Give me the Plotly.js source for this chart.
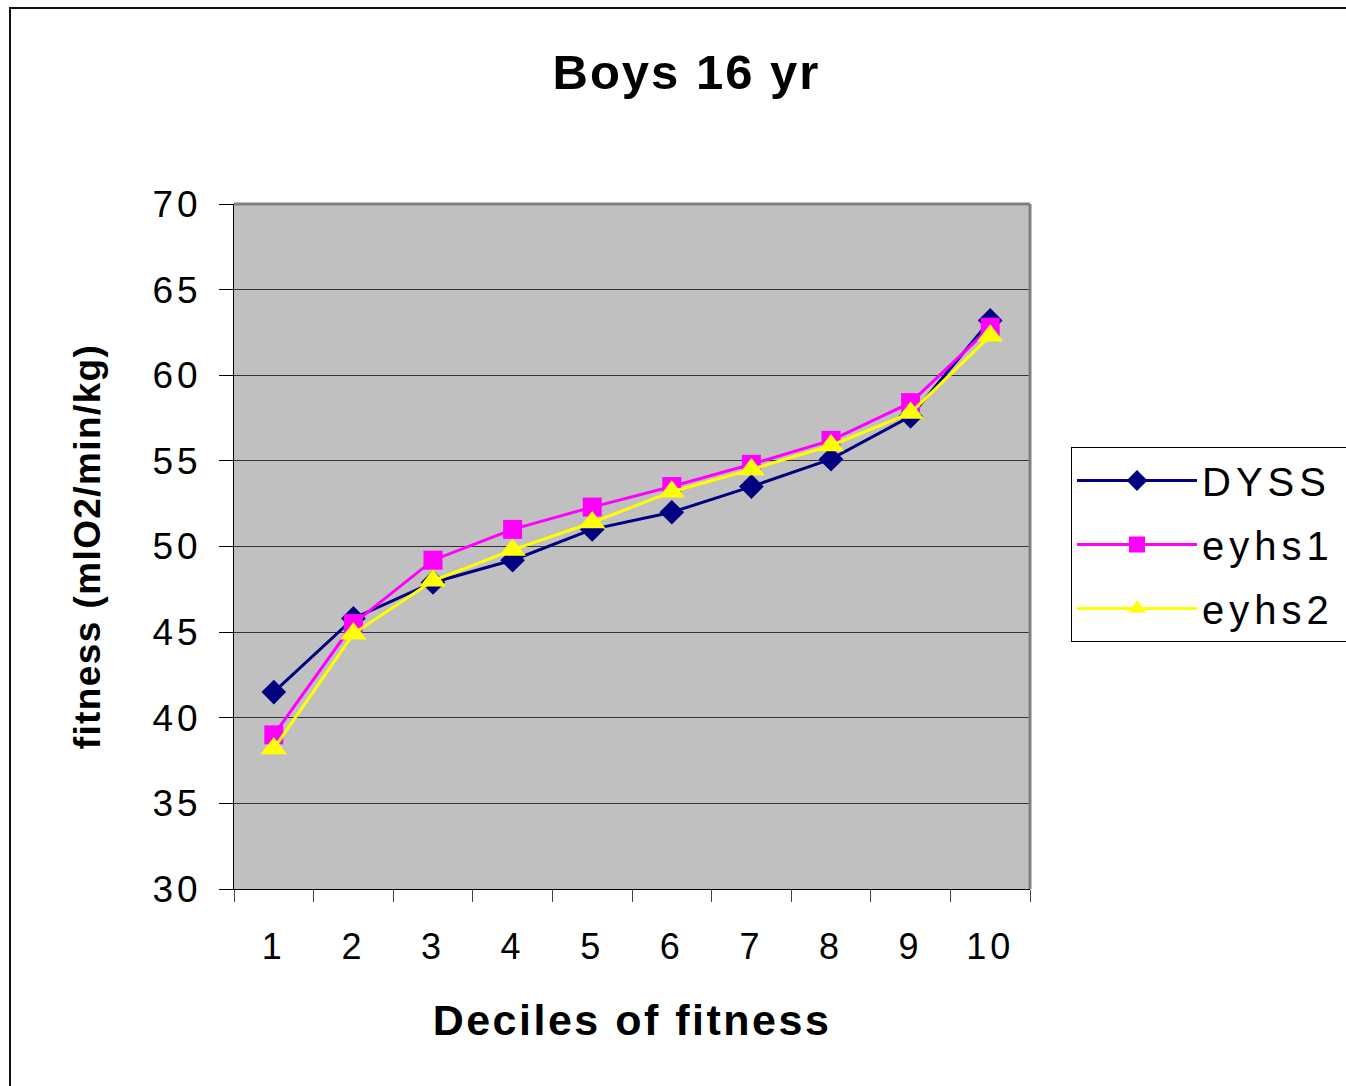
<!DOCTYPE html>
<html>
<head>
<meta charset="utf-8">
<script src="https://cdn.plot.ly/plotly-3.0.1.min.js"></script>
<style>
  html, body { margin: 0; padding: 0; background: #fff; }
  #wrap { position: relative; width: 1346px; height: 1086px; overflow: hidden; }
  #chart { width: 1346px; height: 1086px; }
  #frame { position: absolute; left: 9px; top: 7px; width: 1400px; height: 1200px;
           border-left: 2px solid #111; border-top: 2px solid #111; pointer-events: none; }
  #chart .gtitle { letter-spacing: 2px; }
  #chart .xtitle { letter-spacing: 2.5px; }
  #chart .ytitle { letter-spacing: 1.4px; }
  #chart .xtick text, #chart .ytick text { letter-spacing: 4px; }
  #chart .legendtext { letter-spacing: 5px; }
  /* let the legend box run off the right edge as in the reference, without clipping text */
  #chart .legend .scrollbox { clip-path: none !important; }
  #chart .legend rect.bg { width: 400px; }
</style>
</head>
<body>
<div id="wrap">
  <div id="chart"></div>
  <div id="frame"></div>
</div>
<script>
const deciles = ["1", "2", "3", "4", "5", "6", "7", "8", "9", "10"];
const dyss  = [41.5, 45.8, 47.9, 49.2, 51.0, 52.0, 53.5, 55.1, 57.6, 63.2];
const eyhs1 = [39.0, 45.5, 49.2, 51.0, 52.3, 53.5, 54.8, 56.2, 58.4, 62.8];
const eyhs2 = [38.2, 44.9, 48.0, 49.8, 51.4, 53.2, 54.5, 55.9, 57.8, 62.3];
const yTicks = [30, 35, 40, 45, 50, 55, 60, 65, 70];
const seriesNames = ["DYSS", "eyhs1", "eyhs2"];

const FONT = "Arial, 'Liberation Sans', sans-serif";

const traces = [
  { x: deciles, y: dyss, name: seriesNames[0], legendgroup: "g1", type: "scatter", mode: "lines+markers",
    line: { color: "#000080", width: 3 },
    marker: { symbol: "diamond", size: 19, color: "#000080" } },
  { x: deciles, y: eyhs1, name: seriesNames[1], legendgroup: "g2", type: "scatter", mode: "lines+markers",
    line: { color: "#FF00FF", width: 3 },
    marker: { symbol: "square", size: 19, color: "#FF00FF" } },
  { x: deciles, y: eyhs2, name: seriesNames[2], legendgroup: "g3", type: "scatter", mode: "lines+markers",
    line: { color: "#FFFF00", width: 3 },
    marker: { symbol: "triangle-up", size: 23, color: "#FFFF00" } }
];

const layout = {
  width: 1346, height: 1086,
  paper_bgcolor: "#ffffff",
  plot_bgcolor: "#c0c0c0",
  margin: { l: 234, r: 316, t: 204, b: 197, autoexpand: false },
  font: { family: FONT, color: "#000" },
  title: {
    text: "Boys 16 yr",
    font: { family: FONT, size: 49, weight: "bold", color: "#000" },
    xref: "container", x: 0.51, xanchor: "center",
    yref: "container", y: 1 - 72 / 1086, yanchor: "middle"
  },
  xaxis: {
    type: "category",
    range: [-0.5, 9.5],
    showgrid: false,
    zeroline: false,
    showline: true, linecolor: "#000", linewidth: 1,
    ticks: "outside", tickson: "boundaries", ticklen: 12, tickcolor: "#444", tickwidth: 1,
    ticklabelstandoff: 26,
    tickfont: { family: FONT, size: 36, color: "#000" },
    title: { text: "Deciles of fitness", standoff: 38,
             font: { family: FONT, size: 43, weight: "bold", color: "#000" } },
    fixedrange: true
  },
  yaxis: {
    range: [30, 70],
    tickvals: yTicks,
    ticktext: yTicks.map(String),
    showgrid: true, gridcolor: "#333333", gridwidth: 1,
    zeroline: false,
    showline: true, linecolor: "#000", linewidth: 1,
    ticks: "outside", ticklen: 14, tickcolor: "#000", tickwidth: 1,
    ticklabelstandoff: 10,
    tickfont: { family: FONT, size: 37, color: "#000" },
    title: { text: "fitness (mlO2/min/kg)", standoff: 48,
             font: { family: FONT, size: 37, weight: "bold", color: "#000" } },
    fixedrange: true
  },
  shapes: [
    { type: "line", xref: "paper", yref: "paper", x0: 0, x1: 1, y0: 1, y1: 1,
      line: { color: "#808080", width: 3 } },
    { type: "line", xref: "paper", yref: "paper", x0: 1, x1: 1, y0: 0, y1: 1,
      line: { color: "#808080", width: 3 } }
  ],
  legend: {
    x: (1071 - 234) / 796, xanchor: "left",
    y: (889 - 447) / 685, yanchor: "top",
    bgcolor: "#ffffff",
    bordercolor: "#000", borderwidth: 1,
    font: { family: FONT, size: 40, color: "#000" },
    tracegroupgap: 9,
    itemwidth: 120
  },
  showlegend: true
};

Plotly.newPlot("chart", traces, layout, { displayModeBar: false, staticPlot: true });
</script>
</body>
</html>
